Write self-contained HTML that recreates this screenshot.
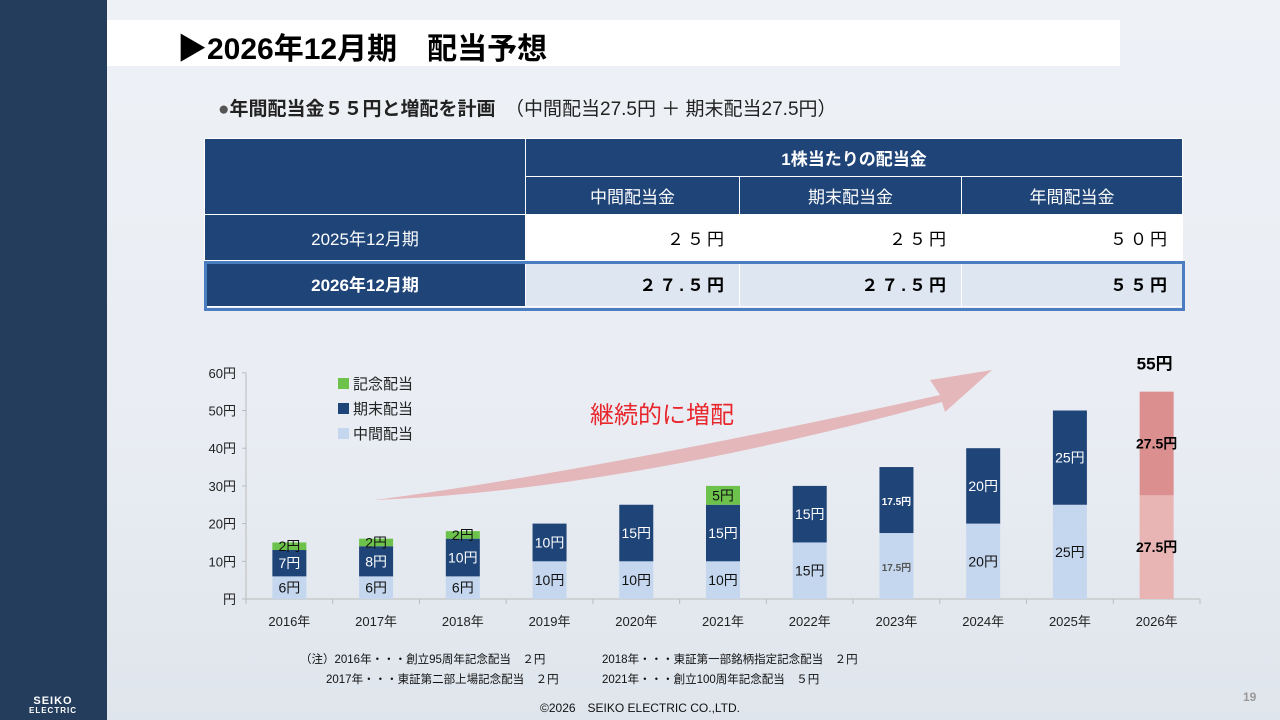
<!DOCTYPE html>
<html><head><meta charset="utf-8"><style>
body{margin:0;width:1280px;height:720px;overflow:hidden;font-family:"Liberation Sans","Noto Sans CJK JP",sans-serif;background:linear-gradient(180deg,#eef1f6 0%,#e9edf3 60%,#dfe5ec 100%);position:relative}
.side{position:absolute;left:0;top:0;width:107px;height:720px;background:#243d5c}
.logo{position:absolute;left:4px;top:697px;width:98px;color:#fff;font-weight:bold;font-size:11px;line-height:9px;text-align:center;letter-spacing:1px}
.title{position:absolute;left:107px;top:20px;width:1013px;height:46px;background:#fff}
.title span{position:absolute;left:70px;top:4px;font-size:30px;font-weight:bold;color:#000}
.sub{position:absolute;left:218px;top:94px;font-size:19px;color:#222}
table{position:absolute;left:204px;top:138px;border-collapse:collapse;width:979px;font-size:17px}
td{border:1px solid #fff;text-align:center;padding:0}
.h{background:#1f4478;color:#fff}
.w{background:#fff;text-align:right;padding-right:12px;letter-spacing:3px}
.b{background:#dde6f1;font-weight:bold;text-align:right;padding-right:12px;letter-spacing:3px}
.hl{position:absolute;left:204px;top:261px;width:975px;height:44px;border:3px solid #4a7ec0}
.note{position:absolute;font-size:11.5px;color:#111}
.foot{position:absolute;left:540px;top:699px;font-size:12px;color:#111}
.pg{position:absolute;left:1243px;top:690px;font-size:12px;color:#999;font-weight:bold}
</style></head><body>
<div class="side"><div class="logo">SEIKO<br><span style="font-size:8px">ELECTRIC</span></div></div>
<div class="title"><span>▶2026年12月期　配当予想</span></div>
<div class="sub"><span style="color:#555">●</span><b>年間配当金５５円と増配を計画</b>　（中間配当27.5円 ＋ 期末配当27.5円）</div>
<table>
<tr style="height:38px"><td class="h" rowspan="2" style="width:320px"></td><td class="h" colspan="3"><b>1株当たりの配当金</b></td></tr>
<tr style="height:38px"><td class="h" style="width:213px">中間配当金</td><td class="h" style="width:221px">期末配当金</td><td class="h">年間配当金</td></tr>
<tr style="height:46px"><td class="h">2025年12月期</td><td class="w">２５円</td><td class="w">２５円</td><td class="w">５０円</td></tr>
<tr style="height:46px"><td class="h"><b>2026年12月期</b></td><td class="b">２７.５円</td><td class="b">２７.５円</td><td class="b">５５円</td></tr>
</table>
<div class="hl"></div>
<svg id="chart" width="1280" height="720" style="position:absolute;left:0;top:0">
<path d="M375,500 Q600,470 940,395 L930,380 L992,370 L945,412 L942,402 Q620,490 375,500 Z" fill="#e3aeb0" opacity="0.85"/>
<text x="662" y="423" font-size="24" fill="#e8262c" text-anchor="middle">継続的に増配</text>
</svg>
<div class="note" style="left:300px;top:651px">（注）2016年・・・創立95周年記念配当　２円</div>
<div class="note" style="left:602px;top:651px">2018年・・・東証第一部銘柄指定記念配当　２円</div>
<div class="note" style="left:326px;top:671px">2017年・・・東証第二部上場記念配当　２円</div>
<div class="note" style="left:602px;top:671px">2021年・・・創立100周年記念配当　５円</div>
<div class="foot">©2026　SEIKO ELECTRIC CO.,LTD.</div>
<div class="pg">19</div>
<script>
const years=["2016年","2017年","2018年","2019年","2020年","2021年","2022年","2023年","2024年","2025年","2026年"];
const interim=[6,6,6,10,10,10,15,17.5,20,25,27.5];
const yearEnd=[7,8,10,10,15,15,15,17.5,20,25,27.5];
const commem=[2,2,2,0,0,5,0,0,0,0,0];
const yTicks=[0,10,20,30,40,50,60];
const svg=document.getElementById('chart');const NS='http://www.w3.org/2000/svg';
const x0=246,x1=1200,y0=599,pxPer=3.77;
const bw=(x1-x0)/years.length;
const X=i=>x0+bw*(i+0.5);const Y=v=>y0-v*pxPer;
function mk(t,a,txt){const e=document.createElementNS(NS,t);for(const k in a)e.setAttribute(k,a[k]);if(txt!=null)e.textContent=txt;svg.appendChild(e);return e;}
let ax=mk('line',{x1:x0,y1:y0,x2:x0,y2:Y(60),stroke:'#bbb'});

let bx=mk('line',{x1:x0,y1:y0,x2:x1,y2:y0,stroke:'#bbb'});

yTicks.forEach(v=>{const t=mk('text',{x:x0-10,y:Y(v)+5,'font-size':13,'text-anchor':'end',fill:'#222'},(v?v:'')+'円');

mk('line',{x1:x0-4,y1:Y(v),x2:x0,y2:Y(v),stroke:'#bbb'});});
for(let i=0;i<=years.length;i++)mk('line',{x1:x0+bw*i,y1:y0,x2:x0+bw*i,y2:y0+5,stroke:'#bbb'});
function seg(i,b,v,fill,name,label,lc,lw,fs){if(!v)return;const w=34;
const r=mk('rect',{x:X(i)-w/2,y:Y(b+v),width:w,height:v*pxPer,fill});

const t=mk('text',{x:X(i),y:Y(b+v/2)+5,'font-size':fs||14,'text-anchor':'middle',fill:lc,'font-weight':lw||'normal'},label);
}
years.forEach((yr,i)=>{
const last=i===years.length-1;
const lab=v=>(v%1?v.toFixed(1):v)+'円';
const small=interim[i]%1!==0&&!last;
seg(i,0,interim[i],last?'#e8b4b4':'#c5d7ef','bar-interim-'+i,lab(interim[i]),last?'#000':(small?'#555':'#111'),(last||small)?'bold':'normal',small?10:14);
seg(i,interim[i],yearEnd[i],last?'#db8f8f':'#1f4478','bar-yearend-'+i,lab(yearEnd[i]),last?'#000':'#fff',(last||small)?'bold':'normal',small?10:14);
seg(i,interim[i]+yearEnd[i],commem[i],'#6cc24a','bar-commem-'+i,lab(commem[i]),'#111');
const t=mk('text',{x:X(i),y:y0+27,'font-size':13,'text-anchor':'middle',fill:'#222'},yr);

if(last){const tt=mk('text',{x:X(i)-2,y:Y(interim[i]+yearEnd[i])-22,'font-size':17,'font-weight':'bold','text-anchor':'middle'},(interim[i]+yearEnd[i])+'円');
}
});
[['記念配当','#6cc24a'],['期末配当','#1f4478'],['中間配当','#c5d7ef']].forEach((l,k)=>{
const yy=383+k*25;
const r=mk('rect',{x:338,y:yy-5,width:11,height:11,fill:l[1]});

const t=mk('text',{x:353,y:yy+6,'font-size':15,fill:'#222'},l[0]);
});
</script>
</body></html>
